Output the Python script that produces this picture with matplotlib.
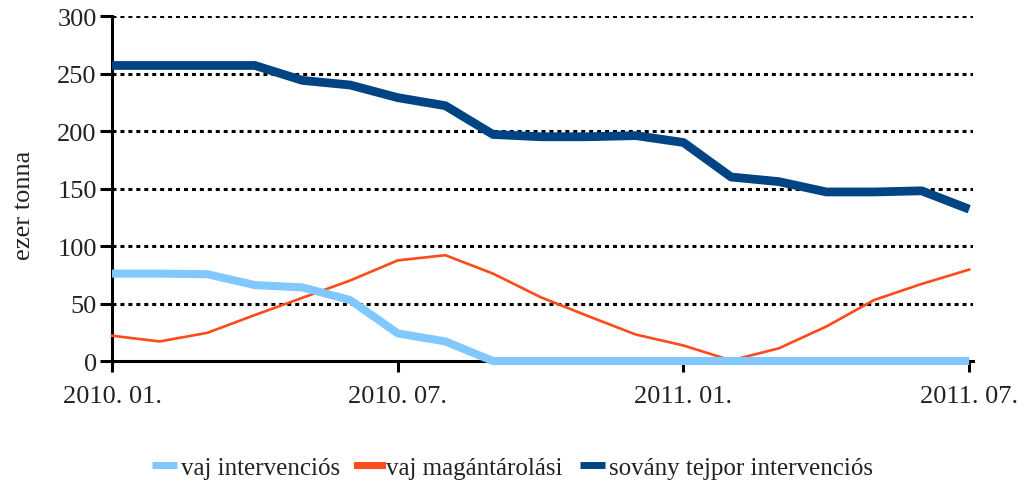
import matplotlib
matplotlib.use("Agg")
import matplotlib.pyplot as plt

plt.rcParams['font.family'] = ['Liberation Serif', 'DejaVu Serif']

# monthly data, 2010.01 - 2011.07
months = list(range(19))
tick_pos = [0, 6, 12, 18]
tick_labels = ['2010. 01.', '2010. 07.', '2011. 01.', '2011. 07.']

vaj_interv = [76, 76, 75.5, 66, 64, 53, 24, 17, 0, 0, 0, 0, 0, 0, 0, 0, 0, 0, 0]
vaj_magan = [22, 17, 24.5, 40, 55, 70, 87.5, 92, 76, 55.5, 39, 23, 13.5, 0.5, 11, 30, 53, 67, 79.5]
tejpor_interv = [257, 257, 257, 257, 244, 240, 229, 222, 197, 195, 195, 196, 190, 160, 156, 147, 147, 148, 132]

fig = plt.figure(figsize=(10.25, 4.89), dpi=100)
ax = fig.add_axes([0.1093, 0.2597, 0.8400, 0.7055])

ax.plot(months, vaj_interv, color='#80c8ff', lw=5.8, label='vaj intervenciós',
        zorder=4, clip_on=False, solid_capstyle='butt')
ax.plot(months, vaj_magan, color='#ff4a1a', lw=1.9, label='vaj magántárolási',
        zorder=3, clip_on=False)
ax.plot(months, tejpor_interv, color='#004484', lw=6.3, label='sovány tejpor intervenciós',
        zorder=5, clip_on=False, solid_capstyle='butt')

ax.set_xlim(0, 18.08)
ax.set_ylim(0, 300)
ax.set_yticks(range(0, 301, 50))
ax.set_xticks(tick_pos)
ax.set_xticklabels(tick_labels)

for v in range(50, 301, 50):
    ax.axhline(v, color='black', lw=2.2, ls=(0, (1.3, 1.3)), zorder=1)

for s in ['top', 'right']:
    ax.spines[s].set_visible(False)
for s in ['left', 'bottom']:
    ax.spines[s].set_linewidth(2.2)
    ax.spines[s].set_zorder(2)

ax.tick_params(axis='y', direction='out', length=9, width=2.2, labelsize=19, pad=2, colors='black')
ax.tick_params(axis='x', direction='out', length=8, width=2.2, labelsize=19, pad=9, colors='black')
for lab in ax.get_yticklabels() + ax.get_xticklabels():
    lab.set_color('#222222')

ax.set_ylabel('ezer tonna', fontsize=19, color='#222222')
ax.yaxis.set_label_coords(-0.090, 0.455)

leg = fig.legend(loc='center', bbox_to_anchor=(0.5, 0.042), ncol=3, frameon=False,
                 fontsize=18, handlelength=1.0, handletextpad=0.15, columnspacing=0.7)
for line in leg.get_lines():
    line.set_linewidth(5)
for t in leg.get_texts():
    t.set_color('#222222')

fig.savefig('out.png', dpi=100)
